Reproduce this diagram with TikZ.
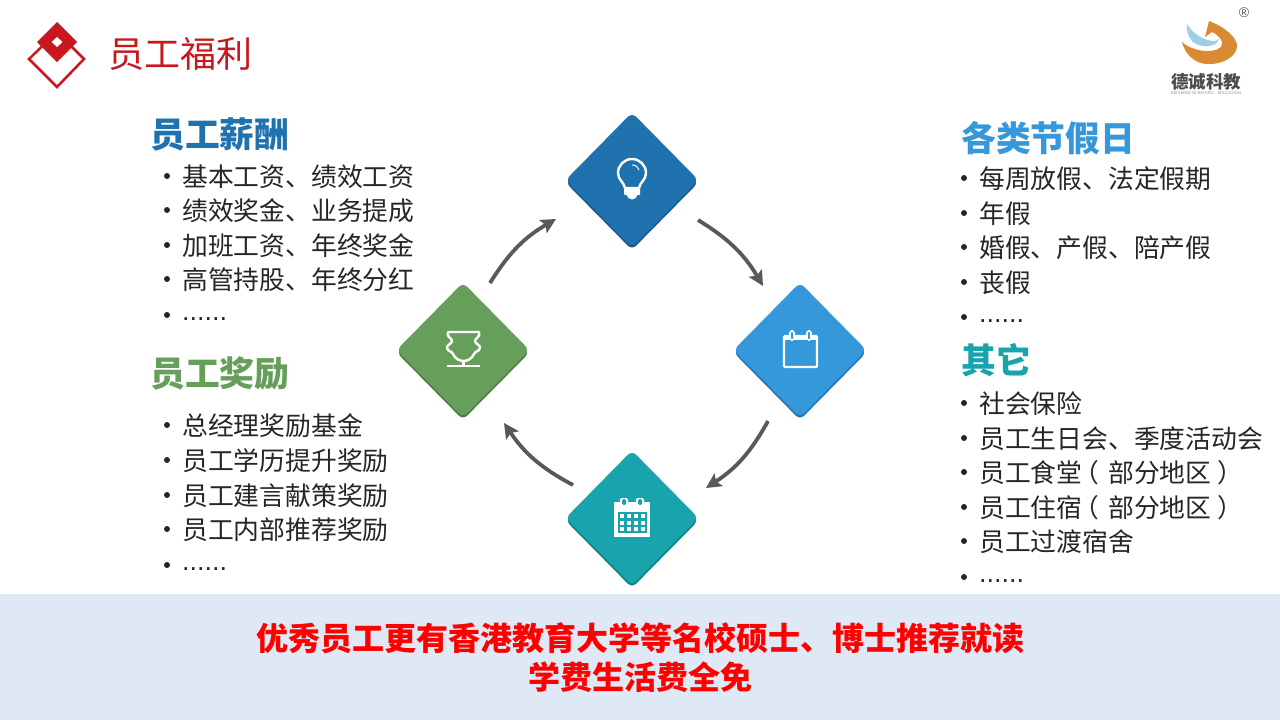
\documentclass[tikz,border=0pt]{standalone}
\usepackage{fontspec}
\setmainfont{Noto Sans CJK SC}
\newfontfamily\plainf{Noto Sans CJK SC}
\newfontfamily\latinf{Liberation Sans}
\usetikzlibrary{shapes.geometric,arrows.meta,calc}
\definecolor{cA}{HTML}{1F72AE}\definecolor{cAd}{HTML}{185C90}
\definecolor{cB}{HTML}{3498DB}\definecolor{cBd}{HTML}{2478B4}
\definecolor{cC}{HTML}{18A3AD}\definecolor{cCd}{HTML}{128088}
\definecolor{cD}{HTML}{659F5A}\definecolor{cDd}{HTML}{4E7F45}
\definecolor{arrowgray}{HTML}{595959}
\definecolor{band}{HTML}{DFE9F5}
\definecolor{bodytext}{HTML}{262626}
\definecolor{brand}{HTML}{C8171E}
\definecolor{logoor}{HTML}{D98B33}
\definecolor{logobl}{HTML}{9CCFE3}
\tikzset{
  dia/.style={shape=diamond,minimum width=133pt,minimum height=135pt,inner sep=0pt,rounded corners=6pt},
  flow/.style={draw=arrowgray,line width=3.8pt,-{Stealth[length=15pt,width=15pt,inset=3pt]}},
  ln/.style={anchor=west,inner sep=0pt,yshift=-1pt,text=bodytext,font=\fontsize{25.8}{26}\selectfont\plainf},
  hd/.style={anchor=west,inner sep=0pt,font=\fontsize{34.8}{35}\selectfont\plainf\bfseries},
  bul/.style={anchor=center,fill=bodytext,circle,inner sep=0pt,minimum size=6pt},
  ico/.style={draw=white,line width=2.4pt,fill=none},
  dots/.style={anchor=west,inner sep=0pt,text=bodytext,font=\fontsize{27}{27}\selectfont\latinf},
}
\newcommand{\lineitem}[4]{% name, x, y, text
  \node[bul] (b#1) at (#2-15,#3) {};
  \node[ln] (t#1) at (#2,#3) {#4};
}
\newcommand{\dotsitem}[3]{%
  \node[bul] (b#1) at (#2-15,#3) {};
  \node[dots] (t#1) at (#2,#3+4) {......};
}
\newcommand{\lp}{\kern-0.35em（\kern0.35em}
\newcommand{\rp}{\kern0.25em）\kern-0.25em}
\begin{document}
\begin{tikzpicture}[x=1pt,y=-1pt]
\useasboundingbox (0,0) rectangle (1280,720);
\fill[white] (0,0) rectangle (1280,720);
\fill[band] (0,594) rectangle (1280,720);
% brand mark
\draw[brand,line width=2.5pt,miter limit=10] (57,32) -- (84,59) -- (57,87) -- (29,59) -- cycle;
\fill[brand] (57,22) -- (77,42) -- (57,62) -- (37,42) -- cycle;
\fill[white] (57,37) -- (62.5,42) -- (57,47) -- (51.5,42) -- cycle;
\node[anchor=west,inner sep=0pt,text=brand,font=\fontsize{36}{36}\selectfont\plainf] (title) at (108,54) {员工福利};
% logo
\fill[logoor] (1209,21) .. controls (1225,27) and (1238,38) .. (1237,47)
  .. controls (1236,57) and (1222,65) .. (1207,64) .. controls (1196,64) and (1185,55) .. (1182,42)
  .. controls (1190,50) and (1212,55) .. (1221,47) .. controls (1225,43) and (1219,35) .. (1212,32)
  -- (1205,37) -- cycle;
\fill[logobl] (1187,24) .. controls (1192,33) and (1205,42) .. (1216,41) -- (1219,38)
  .. controls (1218,48) and (1200,48) .. (1193,42) .. controls (1188,37) and (1186,30) .. (1187,24) -- cycle;
\node[inner sep=0pt,text=black!70,font=\fontsize{17.5}{18}\selectfont\plainf\bfseries] (logotext) at (1206,82) {德诚科教};
\node[inner sep=0pt,text=black!45,font=\fontsize{4}{4}\selectfont\latinf] (logosub) at (1206,93) {DECHENG SCIENTIFIC · EDUCATION};
\node[inner sep=0pt,text=black!65,font=\fontsize{14}{14}\selectfont\latinf] (reg) at (1244,13) {®};
% left text
\node[hd,text=cA] (h1) at (150,134) {员工薪酬};
\lineitem{a1}{182}{176}{基本工资、绩效工资}
\lineitem{a2}{182}{210}{绩效奖金、业务提成}
\lineitem{a3}{182}{245}{加班工资、年终奖金}
\lineitem{a4}{182}{279}{高管持股、年终分红}
\dotsitem{a5}{182}{315}
\node[hd,text=cD] (h2) at (150,373) {员工奖励};
\lineitem{c1}{182}{425}{总经理奖励基金}
\lineitem{c2}{182}{460}{员工学历提升奖励}
\lineitem{c3}{182}{495}{员工建言献策奖励}
\lineitem{c4}{182}{529}{员工内部推荐奖励}
\dotsitem{c5}{182}{565}
% right text
\node[hd,text=cB] (h3) at (961,138) {各类节假日};
\lineitem{d1}{979}{178}{每周放假、法定假期}
\lineitem{d2}{979}{213}{年假}
\lineitem{d3}{979}{247}{婚假、产假、陪产假}
\lineitem{d4}{979}{282}{丧假}
\dotsitem{d5}{979}{317}
\node[hd,text=cC] (h4) at (961,360) {其它};
\lineitem{e1}{979}{403}{社会保险}
\lineitem{e2}{979}{438}{员工生日会、季度活动会}
\lineitem{e3}{979}{472}{员工食堂\lp 部分地区\rp}
\lineitem{e4}{979}{507}{员工住宿\lp 部分地区\rp}
\lineitem{e5}{979}{541}{员工过渡宿舍}
\dotsitem{e6}{979}{577}
% diamonds
\node[dia,fill=cAd] (topS) at (632,182.5) {};
\node[dia,fill=cA] (top) at (632,180) {};
\node[dia,fill=cBd] (rightS) at (800,352.5) {};
\node[dia,fill=cB] (right) at (800,350) {};
\node[dia,fill=cCd] (bottomS) at (632,520.5) {};
\node[dia,fill=cC] (bottom) at (632,518) {};
\node[dia,fill=cDd] (leftS) at (463,352.5) {};
\node[dia,fill=cD] (left) at (463,350) {};
% connectors
\draw[flow] ($(left)+(27,-67)$) to[bend left=14] ($(top)+(-76,39)$);
\draw[flow] ($(top)+(66,40)$) to[bend left=14] ($(right)+(-37,-64)$);
\draw[flow] ($(right)+(-32,71)$) to[bend left=14] ($(bottom)+(74,-30)$);
\draw[flow] ($(bottom)+(-59,-33)$) to[bend left=14] ($(left)+(41,73)$);
% bulb
\draw[ico] (625,188) .. controls (624,182) and (618,180) .. (618,173) arc[start angle=180,end angle=360,radius=14]
  .. controls (646,180) and (640,182) .. (639,188) -- cycle;
\fill[white,rounded corners=1pt] (624,187) rectangle (640,195);
\fill[white] (632,194) circle (5.5pt);
\draw[white,line width=1pt] (632,165) .. controls (636,165) and (638,167) .. (639,170);
% calendar outline
\draw[ico,rounded corners=1pt] (784,336) rectangle (817,367);
\fill[white] (784,335) rectangle (817,340);
\draw[white,line width=1.6pt,fill=cB,rounded corners=1.5pt] (790,331) rectangle (794,340);
\draw[white,line width=1.6pt,fill=cB,rounded corners=1.5pt] (807,331) rectangle (811,340);
% calendar grid
\fill[white] (614,502) rectangle (650,537);
\fill[cC] (618,512) rectangle (647,533);
\fill[white,rounded corners=2pt] (620,498) rectangle (628,507);
\fill[white,rounded corners=2pt] (636,498) rectangle (644,507);
\fill[cC,rounded corners=1.5pt] (622,499) rectangle (626,505);
\fill[cC,rounded corners=1.5pt] (638,499) rectangle (642,505);
\foreach \gx in {620,627,634,641}{\foreach \gy in {514,520.5,527}{\fill[white] (\gx,\gy) rectangle ++(4.4,4.4);}}
% trophy
\draw[ico,line join=round] (448,332) -- (479,332) .. controls (481,337) and (475,338) .. (475,341)
  .. controls (475,344) and (481,345) .. (480,348) .. controls (479,352) and (475,351) .. (474,354)
  .. controls (472,359) and (467,361) .. (463.5,361) .. controls (460,361) and (455,359) .. (453,354)
  .. controls (452,351) and (448,352) .. (447,348) .. controls (446,345) and (452,344) .. (452,341)
  .. controls (452,338) and (446,337) .. (448,332) -- cycle;
\draw[ico] (463.5,361) -- (463.5,366);
\draw[ico] (447,366) -- (480,366);
% band text
\node[inner sep=0pt,text=red,font=\fontsize{32}{32}\selectfont\plainf\bfseries] (msg1) at (640,638) {优秀员工更有香港教育大学等名校硕士、博士推荐就读};
\node[inner sep=0pt,text=red,font=\fontsize{32}{32}\selectfont\plainf\bfseries] (msg2) at (640,677) {学费生活费全免};
\end{tikzpicture}
\end{document}
